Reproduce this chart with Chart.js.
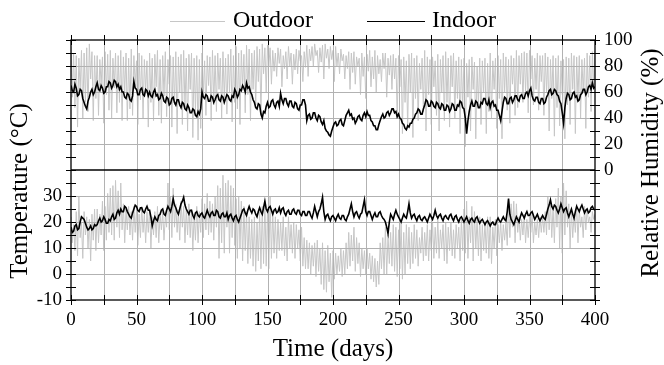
<!DOCTYPE html>
<html>
<head>
<meta charset="utf-8">
<script src="https://cdn.jsdelivr.net/npm/chart.js@4.4.0/dist/chart.umd.min.js"></script>
<style>
html, body { margin: 0; padding: 0; background: #fff; }
#wrap { width: 664px; height: 365px; }
</style>
</head>
<body>
<div id="wrap"><canvas id="climateChart" width="664" height="365"></canvas></div>
<script>
// one reading per day, day 0 .. day 400 (20 days per row)
const DAY_STEP = 1;

const rhIndoor = [
  65, 61, 60, 66, 63, 57, 58, 62, 61, 55, 52, 49, 47, 53, 56, 60, 62, 58, 60, 64,
  67, 62, 61, 65, 63, 59, 60, 64, 64, 68, 67, 63, 65, 69, 68, 64, 66, 62, 64, 60,
  60, 56, 55, 59, 58, 54, 53, 57, 68, 63, 62, 58, 58, 62, 63, 58, 57, 62, 61, 57,
  60, 57, 56, 60, 62, 57, 58, 54, 55, 59, 57, 53, 52, 56, 55, 50, 51, 55, 56, 52,
  50, 54, 54, 50, 48, 52, 51, 47, 46, 50, 48, 44, 44, 47, 46, 42, 41, 45, 43, 47,
  60, 56, 55, 58, 57, 53, 53, 57, 56, 52, 54, 57, 58, 54, 53, 57, 56, 52, 55, 58,
  57, 54, 53, 57, 56, 62, 60, 56, 58, 62, 61, 65, 63, 60, 67, 63, 64, 60, 58, 54,
  52, 48, 47, 51, 50, 43, 40, 45, 44, 49, 52, 48, 49, 53, 54, 50, 48, 52, 53, 49,
  59, 54, 51, 55, 55, 51, 49, 53, 53, 49, 48, 52, 51, 47, 46, 50, 50, 54, 54, 50,
  38, 42, 43, 39, 40, 44, 44, 40, 38, 42, 41, 37, 35, 38, 32, 30, 29, 27, 26, 30,
  33, 36, 37, 34, 35, 38, 39, 35, 34, 38, 42, 44, 46, 42, 43, 39, 40, 36, 38, 41,
  42, 39, 38, 42, 44, 41, 45, 42, 42, 38, 37, 34, 34, 31, 31, 35, 38, 41, 43, 40,
  41, 44, 45, 42, 44, 47, 47, 44, 45, 41, 43, 40, 39, 36, 35, 32, 31, 34, 33, 36,
  36, 39, 40, 43, 44, 47, 46, 43, 43, 47, 50, 54, 53, 49, 49, 53, 52, 49, 48, 52,
  51, 48, 47, 51, 50, 46, 46, 50, 49, 45, 47, 51, 50, 46, 46, 50, 49, 53, 52, 48,
  47, 40, 28, 38, 45, 50, 53, 49, 49, 53, 52, 48, 48, 52, 51, 55, 55, 51, 50, 54,
  48, 52, 53, 49, 50, 46, 46, 42, 38, 45, 52, 56, 55, 51, 51, 55, 56, 52, 54, 57,
  57, 54, 53, 57, 58, 55, 55, 59, 60, 57, 61, 63, 57, 54, 53, 56, 56, 52, 51, 55,
  55, 51, 52, 56, 58, 61, 62, 58, 59, 62, 61, 58, 57, 53, 51, 44, 36, 48, 55, 59,
  58, 54, 55, 59, 60, 56, 57, 53, 54, 58, 59, 62, 62, 58, 60, 64, 65, 62, 67, 63,
  64
];

const rhOutdoor = [
  95, 56, 90, 48, 88, 33, 86, 62, 92, 40, 90, 52, 94, 45, 97, 70, 91, 38, 88, 55,
  88, 42, 85, 66, 87, 36, 91, 58, 89, 46, 92, 40, 86, 63, 90, 44, 88, 52, 92, 38,
  87, 60, 90, 38, 86, 47, 93, 42, 88, 65, 84, 35, 90, 54, 88, 40, 85, 61, 84, 33,
  90, 52, 86, 38, 89, 64, 92, 42, 85, 36, 88, 57, 91, 41, 85, 66, 88, 33, 87, 50,
  91, 28, 87, 60, 89, 35, 92, 48, 86, 30, 89, 62, 90, 25, 86, 45, 88, 23, 85, 32,
  90, 58, 84, 42, 88, 65, 87, 38, 92, 50, 88, 45, 90, 62, 86, 40, 91, 55, 86, 43,
  89, 60, 93, 37, 88, 52, 95, 47, 90, 35, 92, 64, 89, 44, 96, 58, 93, 38, 90, 62,
  92, 50, 95, 68, 93, 42, 97, 74, 94, 60, 96, 80, 94, 66, 92, 76, 90, 72, 94, 82,
  93, 64, 88, 78, 91, 70, 95, 80, 90, 66, 89, 77, 93, 74, 92, 84, 88, 68, 91, 79,
  96, 72, 93, 84, 95, 80, 97, 88, 92, 75, 94, 83, 96, 70, 97, 86, 93, 78, 95, 85,
  92, 68, 95, 80, 90, 74, 93, 84, 89, 70, 88, 78, 91, 62, 90, 75, 91, 66, 87, 80,
  86, 58, 90, 72, 87, 55, 89, 76, 92, 64, 87, 70, 92, 60, 88, 74, 85, 68, 90, 78,
  90, 56, 86, 73, 88, 62, 89, 70, 86, 40, 88, 64, 85, 28, 87, 52, 84, 32, 89, 60,
  90, 25, 86, 55, 88, 38, 82, 62, 86, 45, 92, 30, 87, 58, 85, 35, 87, 64, 84, 42,
  89, 30, 85, 60, 88, 38, 91, 52, 86, 33, 88, 64, 90, 40, 84, 55, 87, 28, 85, 48,
  86, 18, 82, 56, 85, 30, 87, 62, 83, 24, 80, 50, 86, 35, 84, 60, 86, 28, 82, 45,
  90, 40, 84, 62, 86, 32, 88, 55, 85, 24, 90, 60, 87, 46, 85, 36, 88, 66, 86, 42,
  92, 48, 88, 66, 90, 52, 91, 60, 90, 44, 92, 70, 88, 50, 86, 62, 90, 46, 88, 68,
  88, 42, 90, 60, 87, 30, 85, 55, 88, 26, 86, 48, 88, 34, 84, 58, 85, 24, 87, 50,
  86, 35, 90, 62, 88, 28, 87, 54, 88, 40, 85, 60, 86, 32, 90, 56, 88, 45, 91, 62,
  92
];

const tIndoor = [
  18, 16, 16.5, 18.5, 19, 17, 17.5, 20, 22, 21.5, 21, 19.5, 18, 17, 17.5, 18.5, 17, 17.5, 19, 18.5,
  19, 20.5, 21.5, 20, 20.5, 22, 21, 19.5, 19.5, 21, 20.5, 22, 23, 21, 21.5, 23.5, 24.5, 23, 25, 24,
  24, 26, 25.5, 24, 23, 22, 21.5, 23.5, 25, 26.5, 26, 24.5, 24, 25.5, 25.5, 24, 23.5, 25, 26, 24.5,
  24.5, 22, 18.5, 20.5, 22, 21, 20.5, 22.5, 23, 24.5, 25, 23, 22.5, 24.5, 26, 25, 24, 26, 29, 26.5,
  25.5, 24, 23, 25, 27, 28, 29.5, 26.5, 25, 24, 23, 24.5, 24.5, 22.5, 21.5, 23.5, 24, 22.5, 22, 23,
  23.5, 22, 21.5, 23, 24.5, 23, 22, 23.5, 24, 22.5, 22.5, 24.5, 24, 22, 21.5, 23, 23.5, 22, 22, 23.5,
  21, 22.5, 23, 21.5, 20.5, 22, 22.5, 21, 20, 21.5, 23, 24.5, 25, 23.5, 22.5, 24.5, 26, 24.5, 23.5, 25,
  24.5, 23, 22, 24, 25.5, 24, 23, 25.5, 28, 25, 24, 25.5, 26, 24.5, 23, 24.5, 25, 23.5, 24, 25.5,
  23.5, 25, 25.5, 23.5, 22.5, 24, 24.5, 23, 23, 24.5, 25, 23.5, 23, 24.5, 24.5, 23, 22.5, 24, 24, 22.5,
  22.5, 24, 24, 22.5, 21.5, 23.5, 26, 24, 22, 24, 25, 27, 29.5, 24, 21, 22.5, 23, 21.5, 20.5, 22,
  22.5, 21.5, 20.5, 22, 23, 21.5, 21, 22.5, 22.5, 21, 20.5, 22, 23, 25, 27, 24, 22, 23.5, 24, 22.5,
  21.5, 23, 23.5, 26, 28.5, 24, 22.5, 24, 24, 22.5, 21, 22.5, 23.5, 22, 22, 23.5, 24, 22.5, 21.5, 21,
  20, 18, 15.5, 20, 23, 22, 21, 23, 24.5, 23, 22, 21, 20, 21.5, 23, 22, 21.5, 24, 27, 23.5,
  21.5, 22.5, 23, 21.5, 20.5, 22, 22.5, 21, 20.5, 21.5, 22, 21, 20, 21.5, 23, 22, 21, 22.5, 24.5, 22.5,
  21.5, 22.5, 23, 21.5, 20.5, 22, 22.5, 21.5, 21, 22.5, 23, 21.5, 20.5, 22, 22.5, 21, 20, 21.5, 22, 21,
  20, 21, 22, 20.5, 19.5, 21, 21.5, 20.5, 20, 21.5, 22, 20.5, 19.5, 20.5, 21, 20, 19, 20, 20.5, 19.5,
  18.5, 19.5, 20, 19, 19, 20.5, 21.5, 20.5, 20, 21, 22, 21, 20.5, 24, 29, 23, 21, 20, 19, 20.5,
  22, 21, 20, 22, 23.5, 22.5, 21.5, 23, 24, 22.5, 22.5, 23.5, 24, 22.5, 21, 22, 23, 21.5, 20.5, 21.5,
  22.5, 21.5, 21, 23, 25, 26.5, 28.5, 26, 25, 26.5, 26, 24.5, 23.5, 25, 27, 25.5, 24, 25, 25.5, 23.5,
  22, 23.5, 25, 23, 21.5, 24, 26, 25, 24, 25.5, 26.5, 25, 23.5, 24.5, 25, 23.5, 24, 25.5, 26, 25,
  24.5
];

const tOutdoor = [
  22, 12, 19, 9, 24, 7, 30, 14, 20, 6, 24, 15, 22, 10, 21, 5, 23, 13, 25, 9,
  25, 12, 23, 15, 28, 9, 26, 13, 31, 16, 33, 15, 34, 13, 36, 18, 32, 14, 35, 17,
  27, 12, 25, 17, 26, 15, 24, 13, 26, 16, 25, 11, 23, 14, 26, 16, 23, 12, 24, 16,
  25, 10, 22, 15, 24, 14, 26, 12, 23, 17, 24, 13, 22, 18, 35, 17, 30, 14, 33, 18,
  27, 16, 24, 13, 28, 18, 26, 12, 25, 15, 27, 14, 25, 9, 23, 13, 26, 12, 24, 16,
  29, 14, 27, 17, 31, 15, 28, 16, 27, 13, 30, 18, 34, 6, 33, 12, 38, 8, 35, 18,
  36, 8, 34, 14, 33, 11, 29, 6, 30, 10, 28, 5, 26, 9, 24, 4, 22, 6, 21, 3,
  22, 1, 20, 5, 24, 2, 26, 4, 28, 3, 25, 2, 30, 6, 24, 8, 22, 6, 21, 9,
  20, 9, 22, 7, 18, 5, 22, 10, 19, 8, 20, 6, 19, 10, 17, 5, 18, 3, 14, 2,
  13, 2, 12, 0, 11, 3, 12, -1, 13, 1, 10, -4, 12, -6, 9, -7, 11, -3, 8, -9,
  9, -2, 8, 0, 7, 1, 10, -1, 9, 0, 12, 2, 16, 3, 15, 5, 18, 1, 14, 4,
  12, -1, 10, 2, 9, 0, 10, 2, 8, -2, 7, -3, 6, -5, 5, -4, 12, 2, 14, 0,
  18, 0, 15, 4, 16, 3, 19, 1, 18, -1, 17, 2, 20, -2, 16, 0, 19, 4, 18, 2,
  16, 4, 19, 6, 17, 3, 14, 8, 18, 5, 16, 7, 19, 5, 17, 9, 20, 6, 18, 8,
  21, 6, 17, 10, 19, 5, 20, 4, 18, 9, 20, 7, 17, 6, 19, 10, 18, 5, 21, 9,
  25, 8, 28, 6, 22, 12, 26, 5, 24, 10, 21, 7, 22, 5, 19, 9, 20, 8, 22, 6,
  22, 4, 18, 10, 21, 7, 19, 12, 20, 9, 19, 13, 20, 11, 28, 14, 27, 18, 28, 12,
  27, 16, 22, 13, 21, 15, 23, 12, 21, 14, 22, 16, 23, 12, 20, 15, 21, 14, 22, 16,
  22, 16, 24, 15, 30, 17, 28, 14, 26, 12, 29, 18, 33, 10, 30, 8, 35, 15, 32, 18,
  27, 10, 25, 14, 23, 16, 27, 12, 25, 18, 22, 14, 26, 17, 25, 20, 22, 16, 24, 21,
  23
];

const X_LABELS = [0, 50, 100, 150, 200, 250, 300, 350, 400];
const T_LABELS = [-10, 0, 10, 20, 30];
const RH_LABELS = [0, 20, 40, 60, 80, 100];
const X_GRID = [25, 50, 75, 100, 125, 150, 175, 200, 225, 250, 275, 300, 325, 350, 375];
const T_GRID = [0, 10, 20, 30];
const RH_GRID = [20, 40, 60, 80];

const FONT = "'Liberation Serif', 'Times New Roman', serif";
const OUT_COLOR = '#c6c6c6';
const IN_COLOR = '#000000';
const GRID_COLOR = '#b2b2b2';

function toPoints(values) {
    return values.map((v, i) => ({ x: i * DAY_STEP, y: v }));
}

function drawGrid(chart) {
    const { ctx, chartArea: a, scales } = chart;
    ctx.save();
    ctx.strokeStyle = GRID_COLOR;
    ctx.lineWidth = 1;
    ctx.beginPath();
    X_GRID.forEach(d => {
        const px = Math.round(scales.x.getPixelForValue(d)) + 0.5;
        ctx.moveTo(px, a.top);
        ctx.lineTo(px, a.bottom);
    });
    RH_GRID.forEach(v => {
        const py = Math.round(scales.yR.getPixelForValue(v)) + 0.5;
        ctx.moveTo(a.left, py);
        ctx.lineTo(a.right, py);
    });
    T_GRID.forEach(v => {
        const py = Math.round(scales.yL.getPixelForValue(v)) + 0.5;
        ctx.moveTo(a.left, py);
        ctx.lineTo(a.right, py);
    });
    ctx.stroke();
    ctx.restore();
}

function drawFrame(chart) {
    const { ctx, chartArea: a, scales } = chart;
    ctx.save();
    ctx.strokeStyle = '#000';
    ctx.lineWidth = 1.3;
    ctx.strokeRect(a.left, a.top, a.right - a.left, a.bottom - a.top);
    const mid = scales.yL.getPixelForValue(40);
    ctx.beginPath();
    ctx.moveTo(a.left, mid);
    ctx.lineTo(a.right, mid);
    ctx.stroke();

    // tick marks crossing the axis lines
    ctx.lineWidth = 1;
    ctx.beginPath();
    for (let d = 0; d <= 400; d += 25) {
        const px = Math.round(scales.x.getPixelForValue(d)) + 0.5;
        ctx.moveTo(px, a.top - 5); ctx.lineTo(px, a.top + 5);
        ctx.moveTo(px, a.bottom - 5); ctx.lineTo(px, a.bottom + 5);
    }
    for (let t = -10; t <= 90; t += 5) {
        const py = Math.round(scales.yL.getPixelForValue(t)) + 0.5;
        ctx.moveTo(a.left - 5, py); ctx.lineTo(a.left + 5, py);
    }
    for (let r = -100; r <= 100; r += 10) {
        const py = Math.round(scales.yR.getPixelForValue(r)) + 0.5;
        ctx.moveTo(a.right - 5, py); ctx.lineTo(a.right + 5, py);
    }
    ctx.stroke();
    ctx.restore();
}

function drawTexts(chart) {
    const { ctx, chartArea: a } = chart;
    ctx.save();
    ctx.fillStyle = '#000';
    ctx.font = '25px ' + FONT;
    ctx.textAlign = 'center';
    ctx.textBaseline = 'middle';
    ctx.fillText('Time (days)', (a.left + a.right) / 2, 349);

    ctx.save();
    ctx.translate(20, 191);
    ctx.rotate(-Math.PI / 2);
    ctx.fillText('Temperature (°C)', 0, 0);
    ctx.restore();

    ctx.save();
    ctx.translate(651, 163);
    ctx.rotate(-Math.PI / 2);
    ctx.fillText('Relative Humidity (%)', 0, 0);
    ctx.restore();

    // legend
    ctx.font = '24px ' + FONT;
    ctx.textAlign = 'left';
    ctx.lineWidth = 1.2;
    ctx.strokeStyle = OUT_COLOR;
    ctx.beginPath(); ctx.moveTo(170, 21.5); ctx.lineTo(225, 21.5); ctx.stroke();
    ctx.fillText('Outdoor', 233, 21);
    ctx.strokeStyle = IN_COLOR;
    ctx.beginPath(); ctx.moveTo(367, 21.5); ctx.lineTo(425, 21.5); ctx.stroke();
    ctx.fillText('Indoor', 432, 21);
    ctx.restore();
}

const framePlugin = {
    id: 'frameAndText',
    afterDatasetDraw(chart, args) {
        // grid sits over the grey outdoor traces, under the black indoor ones
        if (args.index === 0) drawGrid(chart);
    },
    afterDraw(chart) {
        drawFrame(chart);
        drawTexts(chart);
    }
};

Chart.defaults.font.family = FONT;
Chart.defaults.color = '#000';

const lineStyle = { pointRadius: 0, tension: 0, fill: false };

new Chart(document.getElementById('climateChart').getContext('2d'), {
    type: 'line',
    data: {
        datasets: [
            { ...lineStyle, label: 'Outdoor', data: toPoints(rhOutdoor), yAxisID: 'yR', borderColor: OUT_COLOR, borderWidth: 1, order: 1 },
            { ...lineStyle, label: 'Outdoor T', data: toPoints(tOutdoor), yAxisID: 'yL', borderColor: OUT_COLOR, borderWidth: 1, order: 1 },
            { ...lineStyle, label: 'Indoor', data: toPoints(rhIndoor), yAxisID: 'yR', borderColor: IN_COLOR, borderWidth: 1.6, order: 0 },
            { ...lineStyle, label: 'Indoor T', data: toPoints(tIndoor), yAxisID: 'yL', borderColor: IN_COLOR, borderWidth: 1.6, order: 0 }
        ]
    },
    options: {
        responsive: false,
        animation: false,
        devicePixelRatio: 1,
        layout: { padding: { left: 21, right: 19, top: 40, bottom: 25 } },
        plugins: { legend: { display: false }, tooltip: { enabled: false } },
        scales: {
            x: {
                type: 'linear', min: 0, max: 400,
                grid: { display: false, drawTicks: false },
                border: { display: false },
                ticks: {
                    stepSize: 50, autoSkip: false, maxRotation: 0, padding: 9,
                    font: { size: 19 },
                    callback: v => X_LABELS.includes(v) ? v : ''
                },
                afterFit: s => { s.height = 40; }
            },
            yL: {
                position: 'left', min: -10, max: 90,
                grid: { display: false, drawTicks: false },
                border: { display: false },
                ticks: {
                    stepSize: 10, autoSkip: false, padding: 9,
                    font: { size: 19 },
                    callback: v => T_LABELS.includes(v) ? v : ''
                },
                afterFit: s => { s.width = 50; }
            },
            yR: {
                position: 'right', min: -100, max: 100,
                grid: { display: false, drawTicks: false },
                border: { display: false },
                ticks: {
                    stepSize: 20, autoSkip: false, padding: 9,
                    font: { size: 19 },
                    callback: v => RH_LABELS.includes(v) ? v : ''
                },
                afterFit: s => { s.width = 50; }
            }
        }
    },
    plugins: [framePlugin]
});
</script>
</body>
</html>
